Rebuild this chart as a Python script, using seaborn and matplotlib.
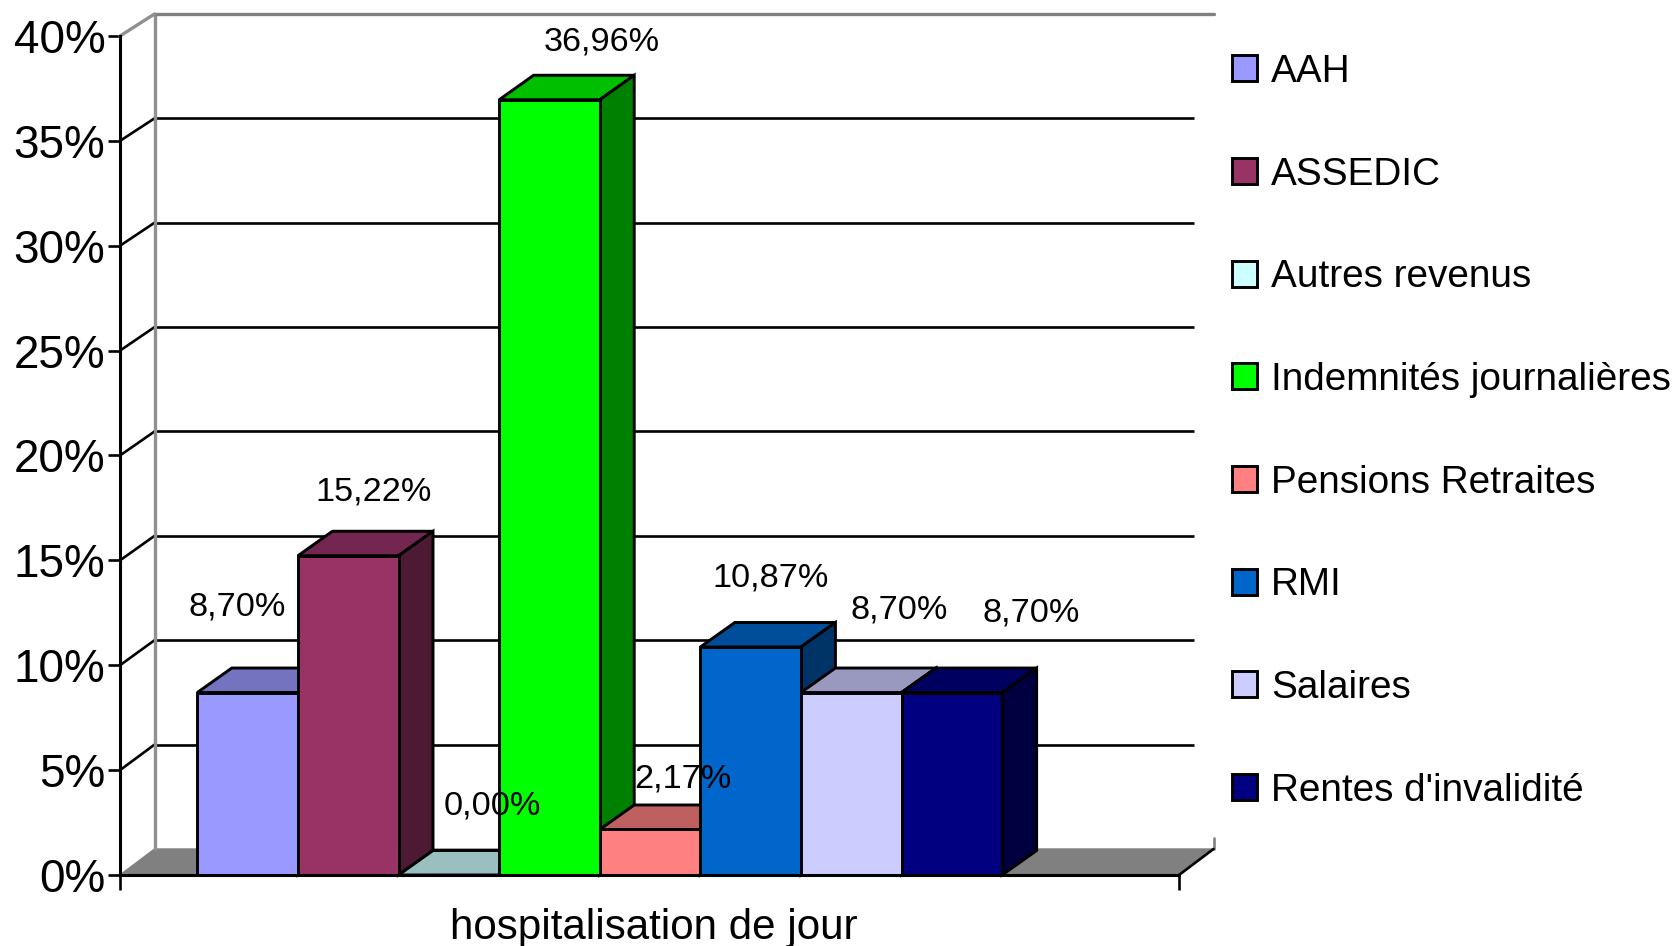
import matplotlib
matplotlib.use("Agg")
import matplotlib.pyplot as plt
from matplotlib.patches import Polygon
from matplotlib.transforms import Affine2D
import pandas as pd
import seaborn as sns

# ---- data ----
group = "hospitalisation de jour"
sources = ["AAH", "ASSEDIC", "Autres revenus", "Indemnités journalières",
           "Pensions Retraites", "RMI", "Salaires", "Rentes d'invalidité"]
values = [8.70, 15.22, 0.00, 36.96, 2.17, 10.87, 8.70, 8.70]
value_labels = ["8,70%", "15,22%", "0,00%", "36,96%", "2,17%", "10,87%", "8,70%", "8,70%"]
y_ticks = [0, 5, 10, 15, 20, 25, 30, 35, 40]
y_tick_labels = ["0%", "5%", "10%", "15%", "20%", "25%", "30%", "35%", "40%"]

# ---- styles ----
front_colors = ["#9999FF", "#993366", "#CCFFFF", "#00FF00",
                "#FF8080", "#0066CC", "#CCCCFF", "#000080"]
top_colors = ["#7373BF", "#732650", "#99BFBF", "#00BF00",
              "#BF6060", "#004D99", "#9999BF", "#000060"]
side_colors = ["#4D4D80", "#4D1A33", "#668080", "#008000",
               "#804040", "#003366", "#666680", "#000040"]
# pixel offset of each value label from the top centre of its bar
label_offsets = [(-10, 86), (25, 64), (43, 69), (52, 58), (33, 50), (20, 69), (48, 83), (79, 80)]

W, H = 1677, 946
DPI = 100
LEFT, RIGHT, TOP, BASE = 120, 1179, 36, 875   # front plane, pixels
DX, DY = 34.5, 24.5                            # depth of the 3-D box, pixels
WALL_DY_LOW, WALL_DY_HIGH = 26, 22             # back wall rise at 0% and at 40%, pixels
GRID_SHORTEN = 20                              # grid lines stop short of the back corner, pixels
EDGE_LW = 2.1
GRID_LW = 1.9
GREY = "#808080"

sns.set_theme(style="white")
plt.rcParams["font.family"] = ["Liberation Sans", "DejaVu Sans"]

df = pd.DataFrame({"group": [group] * len(sources), "source": sources, "value": values})

fig = plt.figure(figsize=(W / DPI, H / DPI), dpi=DPI, facecolor="white")
ax = fig.add_axes([LEFT / W, (H - BASE) / H, (RIGHT - LEFT) / W, (BASE - TOP) / H])
ax.patch.set_alpha(0)

sns.barplot(data=df, x="group", y="value", hue="source", hue_order=sources,
            palette=dict(zip(sources, front_colors)), saturation=1, width=0.76, gap=0,
            edgecolor="black", linewidth=EDGE_LW, legend=False, ax=ax)

ax.set_ylim(0, 40)
ax.set_xlim(-0.453, 0.547)
ax.set_yticks(y_ticks, y_tick_labels, fontsize=33, color="black")
ax.set_xticks(ax.get_xlim(), ["", ""])
ax.tick_params(axis="y", length=8.5, width=GRID_LW, color="black", pad=2, left=True)
ax.tick_params(axis="x", length=11, width=GRID_LW, color="black", bottom=True)
ax.set_xlabel(group, fontsize=30.3, color="black", labelpad=9, x=0.504)
ax.set_ylabel("")
sns.despine(ax=ax, top=True, right=True)
for side in ("left", "bottom"):
    ax.spines[side].set_linewidth(GRID_LW + 0.3)
    ax.spines[side].set_color("black")
    ax.spines[side].set_zorder(40)

fig.canvas.draw()
to_px = ax.transData.transform
x0, x1 = ax.get_xlim()
y_max = ax.get_ylim()[1]
plain = Affine2D()

def wall_rise(t):
    return WALL_DY_LOW + (WALL_DY_HIGH - WALL_DY_LOW) * t / y_max

def display_poly(points, **kw):
    ax.add_patch(Polygon(points, closed=True, transform=plain, clip_on=False, **kw))

def display_line(xs, ys, **kw):
    ax.plot(xs, ys, transform=plain, clip_on=False, zorder=2, **kw)

# floor
(fx0, fy), (fx1, _) = to_px([(x0, 0), (x1, 0)])
floor_rise = wall_rise(0)
display_poly([(fx0, fy), (fx1, fy), (fx1 + DX, fy + floor_rise), (fx0 + DX, fy + floor_rise)],
             facecolor=GREY, edgecolor=GREY, linewidth=1, zorder=1.5)

# back wall, grid lines, and left side wall
for t in y_ticks[1:-1]:
    (px, py), (qx, _) = to_px([(x0, t), (x1, t)])
    rise = wall_rise(t)
    display_line([px + DX, qx + DX - GRID_SHORTEN], [py + rise, py + rise], color="black",
                 lw=GRID_LW, solid_capstyle="butt")
    display_line([px, px + DX], [py, py + rise], color="black", lw=GRID_LW)
(tx, ty), (ux, _) = to_px([(x0, y_max), (x1, y_max)])
top_rise = wall_rise(y_max)
display_line([fx0 + DX, tx + DX], [fy + floor_rise, ty + top_rise], color="#909090", lw=GRID_LW + 0.5)
display_line([tx + DX, ux + DX], [ty + top_rise, ty + top_rise], color=GREY, lw=GRID_LW + 0.5)
display_line([tx, tx + DX], [ty, ty + top_rise], color="#909090", lw=GRID_LW + 0.5)
display_line([fx1 + DX, fx1 + DX], [fy + floor_rise, fy + floor_rise + 11], color=GREY, lw=GRID_LW)
display_line([fx1, fx1 + DX], [fy, fy + floor_rise], color="black", lw=GRID_LW)

# bars: top and side faces are derived from each front face
bars = [c.patches[0] for c in ax.containers]
for i, (bar, top_c, side_c) in enumerate(zip(bars, top_colors, side_colors)):
    (bl_x, bl_y), (tr_x, tr_y) = to_px([(bar.get_x(), 0),
                                        (bar.get_x() + bar.get_width(), bar.get_height())])
    z = 5 + i
    display_poly([(bl_x, tr_y), (tr_x, tr_y), (tr_x + DX, tr_y + DY), (bl_x + DX, tr_y + DY)],
                 facecolor=top_c, edgecolor="black", linewidth=EDGE_LW, joinstyle="miter", zorder=z)
    display_poly([(tr_x, bl_y), (tr_x + DX, bl_y + DY), (tr_x + DX, tr_y + DY), (tr_x, tr_y)],
                 facecolor=side_c, edgecolor="black", linewidth=EDGE_LW, joinstyle="miter", zorder=z)
    bar.set_zorder(z + 0.5)

# value labels
for bar, text, off in zip(bars, value_labels, label_offsets):
    ax.annotate(text, (bar.get_x() + bar.get_width() / 2, bar.get_height()),
                xytext=(off[0] * 72 / DPI, off[1] * 72 / DPI), textcoords="offset points",
                ha="center", va="center", fontsize=24.7, color="black",
                annotation_clip=False, zorder=30)

# legend
ax.legend(bars, sources, loc="upper left", bbox_to_anchor=(1232 / W, 1 - 54 / H),
          bbox_transform=fig.transFigure, frameon=False, fontsize=27.9, borderpad=0,
          borderaxespad=0, handlelength=0.65, handleheight=0.65, handletextpad=0.36,
          labelspacing=1.72, labelcolor="black")

fig.savefig("out.png", dpi=DPI, facecolor="white")
